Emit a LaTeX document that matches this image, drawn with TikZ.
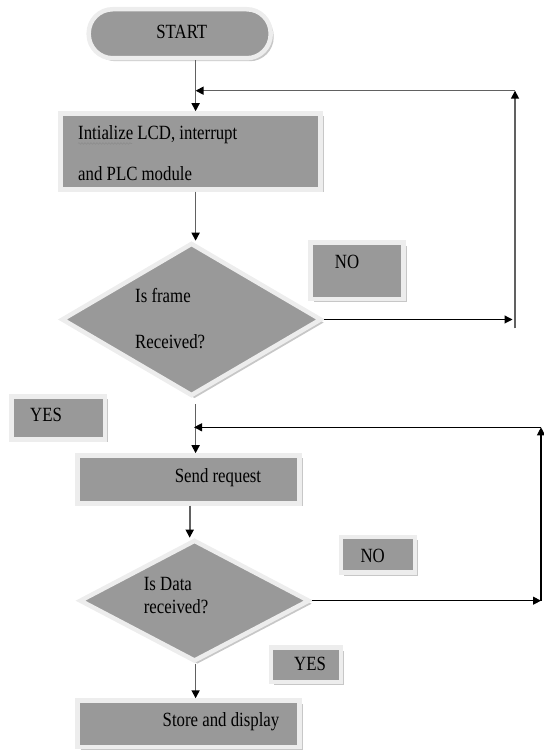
\documentclass[tikz,border=0pt]{standalone}
\usepackage{fontspec}
\setmainfont{Liberation Serif}
\usetikzlibrary{shapes.geometric,shadows,arrows.meta,decorations.pathmorphing}
\newcommand\vtxt[1]{\scalebox{1}[1.2]{#1}}
\tikzset{
  shp/.style={fill=black!40, draw=black!7, line width=4.5pt, inner sep=0pt,
    drop shadow={shadow xshift=3pt, shadow yshift=-3pt, fill=black!22, opacity=1}},
  boxs/.style={shp, rectangle},
  term/.style={shp, rectangle, rounded corners=24pt},
  dia/.style={shp, diamond},
  txt/.style={font=\fontsize{16.8}{20}\selectfont, inner sep=0pt, text=black},
  graylink/.style={draw=black!62, line width=1.6pt, -{Triangle[width=8pt,length=8pt,color=black]}},
  blacklink/.style={draw=black, line width=1.1pt, -{Triangle[width=8pt,length=8pt,color=black]}},
}
\begin{document}
\begin{tikzpicture}[x=1pt,y=1pt]
\useasboundingbox (0,0) rectangle (543,751);
% shapes
\node[term, minimum width=182pt, minimum height=49pt] (start) at (179.7,717.25) {};
\node[boxs, minimum width=260pt, minimum height=76pt] (init) at (190.6,599.5) {};
\node[dia, minimum width=260pt, minimum height=153pt] (frame) at (191.5,431.5) {};
\node[boxs, minimum width=93pt, minimum height=56.5pt] (no1) at (357,480.2) {};
\node[boxs, minimum width=93.7pt, minimum height=43pt] (yes1) at (58.2,333) {};
\node[boxs, minimum width=222pt, minimum height=48pt] (send) at (188.6,271.5) {};
\node[dia, minimum width=230pt, minimum height=121.5pt] (data) at (194.5,150.3) {};
\node[boxs, minimum width=74.3pt, minimum height=35.5pt] (no2) at (377.9,196.2) {};
\node[boxs, minimum width=70.3pt, minimum height=34.5pt] (yes2) at (305.9,86.2) {};
\node[boxs, minimum width=222pt, minimum height=46.5pt] (store) at (188.6,27.2) {};
% texts
\node[txt, anchor=base] (tstart) at (181.8,712) {\vtxt{START}};
\node[txt, anchor=base west] (tinit1) at (78,611) {\vtxt{Intialize LCD, interrupt}};
\node[txt, anchor=base west] (tinit2) at (78,570) {\vtxt{and PLC module}};
\node[txt, anchor=base] (tno1) at (347,482) {\vtxt{NO}};
\node[txt, anchor=base west] (tframe1) at (135,448.6) {\vtxt{Is frame}};
\node[txt, anchor=base west] (tframe2) at (135,402.6) {\vtxt{Received?}};
\node[txt, anchor=base] (tyes1) at (46,329.3) {\vtxt{YES}};
\node[txt, anchor=base] (tsend) at (218,268.3) {\vtxt{Send request}};
\node[txt, anchor=base west] (tdata1) at (143.7,160) {\vtxt{Is Data}};
\node[txt, anchor=base west] (tdata2) at (143.7,137.6) {\vtxt{received?}};
\node[txt, anchor=base] (tno2) at (372.7,188.3) {\vtxt{NO}};
\node[txt, anchor=base] (tyes2) at (310,80.3) {\vtxt{YES}};
\node[txt, anchor=base] (tstore) at (221,24) {\vtxt{Store and display}};
% spell-check squiggle
\coordinate (sq1) at (78,607.5);
\coordinate (sq2) at (132,607.5);
\draw[black!45, line width=0.6pt, decorate, decoration={snake, amplitude=0.8pt, segment length=3pt}] (sq1) -- (sq2);
% helper coordinates
\coordinate (spine) at (195.6,0);
\coordinate (spine2) at (189.7,0);
\coordinate (j1) at (195.6,660.3);
\coordinate (r1t) at (515,660.3);
\coordinate (r1b) at (515,422.7);
\coordinate (j2) at (194,323.7);
\coordinate (r2t) at (541,323.7);
\coordinate (r2b) at (541,150.3);
% connectors
\draw[graylink] (start.south -| spine) -- (init.north -| spine);
\draw[graylink] (init.south -| spine) -- (frame.north -| spine);
\draw[blacklink] (frame.east) -- ([xshift=-2.5pt]frame.east -| r1t);
\draw[graylink] (r1b) -- (r1t);
\draw[graylink] (r1t) -- (j1);
\draw[graylink] ([yshift=-6pt]frame.south -| spine) -- (send.north -| spine);
\draw[blacklink] (r2b) -- (r2t);
\draw[blacklink] (r2t) -- (j2);
\draw[graylink] (send.south -| spine2) -- (data.north -| spine2);
\draw[blacklink] (data.east) -- (data.east -| r2b);
\draw[graylink] (data.south -| spine) -- (store.north -| spine);
\end{tikzpicture}
\end{document}
